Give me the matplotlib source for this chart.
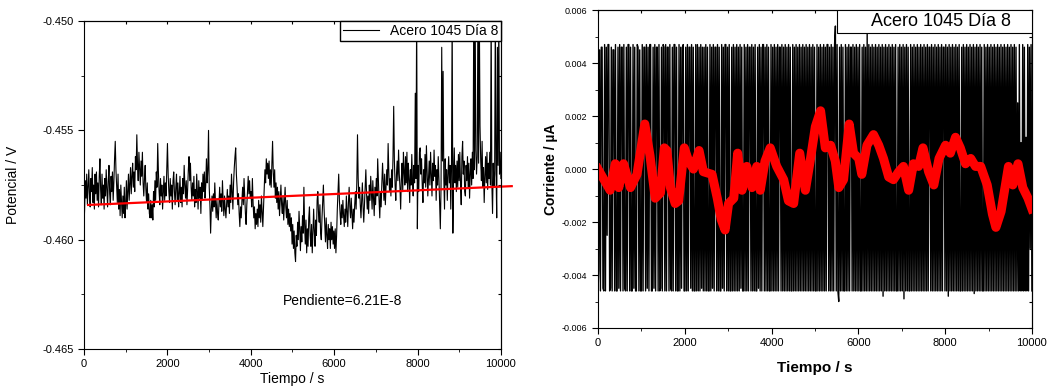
import numpy as np
import matplotlib.pyplot as plt
from matplotlib.patches import Rectangle
from matplotlib.ticker import MultipleLocator, FormatStrFormatter

plt.rcParams['font.family'] = ['Liberation Sans', 'DejaVu Sans']

potencial_mV = [
    -459.5, -458.6, -457.3, -458.1, -457.0, -458.4, -457.6, -456.8, -457.9, -458.5, -457.2, -457.8, -456.7, -458.3, -457.5,
    -458.6, -457.0, -457.9, -456.9, -458.2, -457.4, -458.5, -457.1, -456.3, -457.7, -458.4, -457.0, -458.1, -457.5, -458.6,
    -457.2, -458.0, -456.8, -457.6, -458.5, -457.3, -456.6, -457.9, -458.4, -457.1, -457.8, -456.9, -458.2, -457.4, -456.3,
    -455.5, -456.8, -457.6, -458.3, -457.0, -458.6, -457.7, -458.9, -457.5, -458.2, -459.0, -458.0, -458.8, -457.6, -459.0,
    -458.4, -457.3, -458.6, -457.8, -457.0, -458.2, -457.4, -456.7, -457.9, -457.1, -456.5, -457.6, -456.9, -457.8, -456.2,
    -456.8, -455.2, -456.6, -457.3, -456.0, -456.8, -457.5, -456.4, -457.1, -456.0, -457.4, -458.0, -457.2, -456.6, -457.7,
    -458.3, -457.4, -458.6, -457.9, -458.8, -459.0, -458.2, -459.0, -458.4, -459.1, -457.8, -458.5, -457.3, -458.2, -456.9,
    -457.6, -455.6, -456.9, -457.8, -458.4, -457.2, -458.0, -457.5, -458.6, -457.9, -457.1, -458.2, -457.4, -458.0, -456.8,
    -455.6, -457.0, -457.8, -458.3, -457.2, -458.0, -457.5, -458.6, -457.3, -456.9, -457.8, -458.4, -457.6, -457.0, -458.2,
    -457.4, -458.5, -457.9, -457.1, -458.3, -457.6, -458.5, -457.2, -457.9, -456.6, -457.5, -458.1, -457.3, -458.4, -457.7,
    -456.8, -456.2, -457.3, -456.5, -457.6, -458.2, -457.4, -458.0, -457.1, -458.5, -457.7, -458.3, -457.0, -457.8, -458.6,
    -457.3, -458.1, -457.6, -458.8, -457.4, -458.2, -457.0, -457.8, -456.9, -458.1, -457.5, -456.3, -457.4, -456.8, -455.0,
    -457.6, -458.4, -459.7, -458.6, -458.0, -458.7, -457.9, -458.5, -457.4, -458.3, -459.0, -458.2, -458.8, -459.1, -458.4,
    -457.6, -458.5, -457.9, -458.7, -457.3, -458.2, -458.9, -458.0, -458.6, -459.0, -458.3, -457.7, -458.5, -458.0, -458.8,
    -457.5, -458.3, -457.0, -457.8, -458.6, -457.4, -456.7, -456.2, -455.8, -457.0, -457.6, -458.4, -457.9, -458.8, -459.4,
    -458.5, -459.0, -458.2, -457.6, -458.4, -457.2, -458.0, -458.8, -459.3, -458.4, -457.8, -457.1, -457.9, -457.3, -458.1,
    -457.8, -458.5, -457.2, -458.3, -459.0, -458.5, -459.5, -458.8, -459.3, -458.6, -459.4, -458.2, -459.0, -458.4, -459.2,
    -458.0, -458.7, -459.4, -458.5, -457.6, -456.8, -457.4, -456.3, -457.0, -456.5, -457.2, -456.4, -457.5, -456.8, -457.6,
    -456.6, -455.5, -456.9, -457.6, -456.8, -458.1, -457.4, -458.3, -457.6, -458.6, -457.8, -458.9, -458.2, -457.5, -458.4,
    -458.8, -458.0, -459.1, -458.3, -457.6, -458.5, -459.0, -458.2, -459.3, -458.6, -459.4, -458.8, -459.6, -459.0, -460.2,
    -459.3, -460.4, -459.6, -460.6, -461.0, -459.8, -460.3, -459.2, -460.0, -458.7, -459.5, -460.5, -459.4, -460.1, -458.9,
    -459.7, -457.6, -459.3, -460.2, -459.1, -460.6, -459.5, -460.3, -459.0, -458.5, -459.8, -460.3, -459.3, -460.6, -459.7,
    -458.6, -459.6, -460.3, -459.1, -459.8, -458.2, -457.8, -458.8, -459.2, -458.4, -459.7, -460.0, -459.0, -458.3, -457.5,
    -458.6, -459.4, -460.1, -459.0, -459.8, -460.4, -459.3, -460.0, -459.5, -460.4, -459.2, -460.0, -459.4, -460.2, -459.6,
    -460.4, -459.5, -460.6, -459.8, -458.6, -457.8, -457.0, -458.2, -458.8, -459.3, -458.4, -459.0, -458.2, -458.9, -459.4,
    -458.6, -459.2, -458.0, -458.7, -459.4, -458.3, -457.6, -458.5, -459.0, -458.1, -458.8, -459.5, -458.6, -459.2, -458.4,
    -457.8, -458.6, -457.4, -455.2, -457.2, -458.1, -457.6, -458.4, -459.0, -458.2, -457.4, -458.5, -459.2, -458.4, -457.6,
    -456.8, -457.9, -458.6, -458.0, -458.8, -457.5, -458.2, -457.1, -457.9, -458.6, -457.3, -458.1, -458.9, -457.6, -458.4,
    -457.2, -458.0, -456.3, -457.3, -458.2, -459.0, -457.8, -458.5, -457.4, -456.5, -457.3, -458.2, -457.0, -458.4, -457.6,
    -456.8, -457.5, -455.6, -456.9, -457.8, -457.2, -458.0, -456.8, -457.6, -456.2, -453.9, -456.4, -457.5, -458.2, -457.0,
    -456.4, -457.3, -455.9, -457.0, -457.6, -458.6, -457.2, -456.5, -457.8, -456.0, -456.9, -457.5, -456.2, -457.4, -456.0,
    -457.8, -456.5, -457.2, -458.3, -456.8, -457.5, -456.1, -457.3, -458.0, -456.6, -457.4, -453.3, -457.2, -449.5, -459.5,
    -456.6, -457.8, -456.0, -455.8, -457.0, -456.3, -457.5, -458.3, -456.8, -457.4, -456.1, -457.6, -455.7, -456.9, -458.0,
    -457.2, -456.4, -457.5, -456.0, -457.0, -458.0, -456.5, -457.3, -455.9, -457.1, -456.6, -458.2, -456.8, -457.5, -456.2,
    -457.2, -458.4, -459.5, -457.6, -451.2, -456.4, -452.3, -457.2, -458.6, -456.3, -457.5, -456.8, -458.2, -457.0, -456.2,
    -457.4, -456.6, -458.6, -456.8, -449.5, -459.7, -457.0, -455.8, -457.4, -456.6, -457.8, -456.4, -457.6, -456.1, -457.3,
    -456.0, -457.5, -458.4, -456.2, -455.5, -457.0, -456.4, -457.8, -458.0, -456.6, -457.3, -456.2, -457.6, -456.5, -458.1,
    -457.0, -456.3, -457.5, -456.0, -457.2, -449.5, -456.8, -449.5, -455.9, -457.0, -456.2, -449.5, -456.5, -449.5, -454.8,
    -456.4, -457.3, -455.5, -457.6, -456.7, -458.3, -457.1, -456.2, -457.4, -456.0, -457.7, -456.5, -457.2, -456.0, -457.5,
    -449.5, -457.4, -458.8, -456.5, -457.6, -457.0, -449.5, -456.8, -459.0, -451.2, -456.6, -449.5, -457.0, -456.0, -457.2,
]
tiempo_pot = np.linspace(0, 10000, len(potencial_mV))

# Ajuste lineal (extremos)
ajuste_t = [100, 10260]
ajuste_v = [-0.45841, -0.45755]

corriente_e4 = [
    -47, -38, 45, -46, 46, 46, -45, -46, 47, -46, 46, -25, 47, 47, -46, -45, 46, -46, 45, 45,
    -46, 47, -46, -46, 46, -45, 47, -46, 46, 46, -46, 47, -45, -46, 46, -46, 47, 47, -46, 46,
    -46, -46, 47, -45, 46, -46, -46, 47, 46, -46, 45, -46, -46, 47, -46, 46, 46, -46, 47, -45,
    46, -46, 47, 47, -46, -46, 46, -45, 47, -46, 46, 46, -46, 47, -46, -45, 46, -46, 47, 46,
    -46, 47, -46, 46, 46, -46, 47, -45, -46, 46, -46, 47, 47, -46, 46, -46, -46, 47, -46, 46,
    -45, 46, 47, -46, -46, 46, -46, 47, -46, 46, 46, -45, 47, -46, 46, -46, -46, 47, -46, 47,
    -46, 46, -46, 47, -45, 46, -46, 46, -46, 47, -46, 46, -46, -46, 47, -46, 46, -45, 47, -46,
    46, 46, -46, 47, -46, 46, -46, -46, 47, -45, 46, -46, 47, 47, -46, 46, -46, 47, -46, -46,
    46, -46, 47, -46, 46, -46, 47, -46, 46, -46, 47, -45, 46, -46, -46, 47, -46, 46, -46, 47,
    -46, 46, 46, -46, 47, -46, 46, -46, 47, -46, -46, 46, -45, 47, -46, 46, -46, 47, 47, -46,
    46, -46, 47, -46, 46, -46, -46, 47, -46, 46, -46, 47, -46, 46, -46, 47, -46, 46, 46, -46,
    47, -46, 46, -46, 47, -46, 46, -46, 47, -46, 46, -46, -46, 47, -46, 46, -46, 47, -46, 46,
    -46, 47, -46, 46, -46, 47, -46, 46, -46, 47, -46, 46, -46, 47, -46, 46, -46, 47, -46, 46,
    -46, -46, 47, -46, 46, -46, 47, -46, 46, -46, 47, -46, 46, -46, 47, 47, -46, 46, -46, 47,
    -46, 46, -46, 47, 54, -46, 47, -46, -50, 46, -46, 47, -46, 46, -46, -46, 47, -46, 46, -46,
    47, -46, 46, 46, -46, 47, -46, 46, -46, 47, -46, 46, -46, 47, -46, -46, 46, -46, 47, -46,
    46, -46, 51, -46, 47, -46, 46, -46, 47, -46, 46, -46, 47, -46, 46, -46, 47, -46, 46, -46,
    47, -48, 46, -46, 47, -46, 46, -46, 47, -46, 46, -46, 47, -46, 46, -46, 47, -46, -46, 46,
    -46, 47, -46, 46, -46, 47, -49, 46, -46, 47, -46, 46, -46, -46, 47, -46, 46, -46, 47, -46,
    46, -46, 47, -46, 46, -46, 47, -46, 46, -46, 47, -46, 46, -46, 47, -46, 46, 46, -46, 47,
    -46, 46, -46, 47, -46, 46, -46, 47, -46, 46, -46, 47, -46, 46, 46, -46, 47, -46, 46, -48,
    47, -46, 46, -46, 47, -46, 46, -46, 47, -46, 46, -46, 47, -46, -46, 46, -46, 47, -46, 46,
    -46, 47, -46, 46, -46, 47, -46, 46, -46, 47, -47, 46, -46, 47, -46, 46, -46, 47, -46, 46,
    -46, -46, 47, -46, 46, -46, 47, -46, 46, -46, 47, -46, 46, -46, 47, -46, 46, -46, 47, -46,
    46, -46, 47, -46, 46, -46, 47, -46, 46, -46, 47, -46, 46, -46, 47, -46, 46, -46, 47, -46,
    46, -46, 25, -46, 47, -46, 10, -46, 47, -46, 46, -46, 12, -46, 47, -46, 46, -30, 47, -46,
]
tiempo_cor = np.linspace(0, 10000, len(corriente_e4))

# Curva suavizada (roja)
suave_t = [0, 280, 400, 480, 590, 750, 900, 1080, 1200, 1320, 1440, 1530, 1590, 1670,
           1780, 1860, 1990, 2090, 2200, 2330, 2430, 2630, 2750, 2840, 2930, 3010, 3130,
           3220, 3320, 3430, 3550, 3660, 3740, 3850, 3970, 4120, 4280, 4390, 4510, 4650,
           4780, 4890, 5010, 5130, 5240, 5360, 5470, 5550, 5660, 5790, 5890, 6010, 6080,
           6200, 6350, 6470, 6580, 6700, 6810, 6930, 7040, 7160, 7270, 7390, 7490, 7620,
           7740, 7860, 8010, 8120, 8240, 8350, 8470, 8590, 8700, 8820, 8970, 9090, 9170,
           9290, 9370, 9460, 9560, 9680, 9790, 9910, 10000]
suave_i = [0.0, -0.0008, 0.0002, -0.0007, 0.0002, -0.0007, -0.0002, 0.0017, 0.0005, -0.0011,
           -0.0009, 0.0008, 0.0007, -0.0007, -0.0013, -0.0012, 0.0008, 0.0003, 0.0, 0.0007,
           -0.0001, -0.0002, -0.0011, -0.0019, -0.0023, -0.0013, -0.0011, 0.0006, -0.0008,
           0.0001, -0.0007, 0.0001, -0.0008, 0.0003, 0.0008, 0.0001, -0.0004, -0.0012,
           -0.0013, 0.0006, -0.0008, 0.0003, 0.0016, 0.0022, 0.0008, 0.0009, 0.0003, -0.0007,
           -0.0004, 0.0017, 0.0006, 0.0004, -0.0002, 0.0009, 0.0013, 0.0009, 0.0004, -0.0003,
           -0.0004, -0.0001, 0.0001, -0.0008, 0.0002, 0.0001, 0.0008, -0.0001, -0.0006,
           0.0004, 0.0009, 0.0006, 0.0012, 0.0008, 0.0002, 0.0004, 0.0001, 0.0001, -0.0006,
           -0.0017, -0.0022, -0.0016, -0.0008, 0.0001, -0.0006, 0.0002, -0.0007, -0.0011,
           -0.0015]

fig = plt.figure(figsize=(10.49, 3.9), dpi=100)

# ---------------- Grafica izquierda ----------------
ax1 = fig.add_axes([0.080, 0.105, 0.3975, 0.841])
ax1.plot(tiempo_pot, np.array(potencial_mV) / 1000, color='black', linewidth=0.8,
         label='Acero 1045 Día 8')
ax1.plot(ajuste_t, ajuste_v, color='red', linewidth=1.6, clip_on=False)
ax1.set_xlim(0, 10000)
ax1.set_ylim(-0.465, -0.450)
ax1.xaxis.set_major_locator(MultipleLocator(2000))
ax1.xaxis.set_minor_locator(MultipleLocator(1000))
ax1.yaxis.set_major_locator(MultipleLocator(0.005))
ax1.yaxis.set_minor_locator(MultipleLocator(0.0025))
ax1.yaxis.set_major_formatter(FormatStrFormatter('%.3f'))
ax1.tick_params(which='both', direction='out', labelsize=8)
ax1.tick_params(which='major', length=4)
ax1.tick_params(which='minor', length=2.5)
ax1.set_xlabel('Tiempo / s', fontsize=10, labelpad=2)
ax1.set_ylabel('Potencial / V', fontsize=10, labelpad=16)
ax1.text(4770, -0.4628, 'Pendiente=6.21E-8', fontsize=10, va='center')
ax1.legend(loc='upper right', borderaxespad=0, fancybox=False, framealpha=1,
           edgecolor='black', fontsize=10, handlelength=2.6, borderpad=0.2)
sx = ax1.secondary_xaxis('top')
sx.xaxis.set_major_locator(MultipleLocator(1000))
sx.tick_params(direction='in', length=2.5, labeltop=False)
sy = ax1.secondary_yaxis('right')
sy.yaxis.set_major_locator(MultipleLocator(0.0025))
sy.tick_params(direction='in', length=2.5, labelright=False)

# ---------------- Grafica derecha ----------------
ax2 = fig.add_axes([0.570, 0.159, 0.4137, 0.815])
ax2.plot(tiempo_cor, np.array(corriente_e4) * 1e-4, color='black', linewidth=1.0)
ax2.plot(suave_t, suave_i, color='red', linewidth=6.5, solid_joinstyle='round')
ax2.set_xlim(0, 10000)
ax2.set_ylim(-0.006, 0.006)
ax2.xaxis.set_major_locator(MultipleLocator(2000))
ax2.xaxis.set_minor_locator(MultipleLocator(1000))
ax2.yaxis.set_major_locator(MultipleLocator(0.002))
ax2.yaxis.set_minor_locator(MultipleLocator(0.001))
ax2.yaxis.set_major_formatter(FormatStrFormatter('%.3f'))
ax2.tick_params(which='both', direction='out')
ax2.tick_params(axis='x', labelsize=8)
ax2.tick_params(axis='y', labelsize=6.5)
ax2.tick_params(which='major', length=4)
ax2.tick_params(which='minor', length=2.5)
ax2.set_xlabel('Tiempo / s', fontsize=11, fontweight='bold', labelpad=9)
ax2.set_ylabel('Corriente / µA', fontsize=10, fontweight='bold', labelpad=3)
# recuadro de la leyenda
ax2.add_patch(Rectangle((0.5507, 0.9277), 0.4493, 0.0723, transform=ax2.transAxes,
                        facecolor='white', edgecolor='black', linewidth=0.8, zorder=5))
ax2.text(0.7915, 0.9638, 'Acero 1045 Día 8', transform=ax2.transAxes, fontsize=13,
         ha='center', va='center', zorder=6)
sx2 = ax2.secondary_xaxis('top')
sx2.xaxis.set_major_locator(MultipleLocator(1000))
sx2.tick_params(direction='in', length=2.5, labeltop=False)
sy2 = ax2.secondary_yaxis('right')
sy2.yaxis.set_major_locator(MultipleLocator(0.001))
sy2.tick_params(direction='in', length=2.5, labelright=False)

plt.savefig('out.png', dpi=100)
